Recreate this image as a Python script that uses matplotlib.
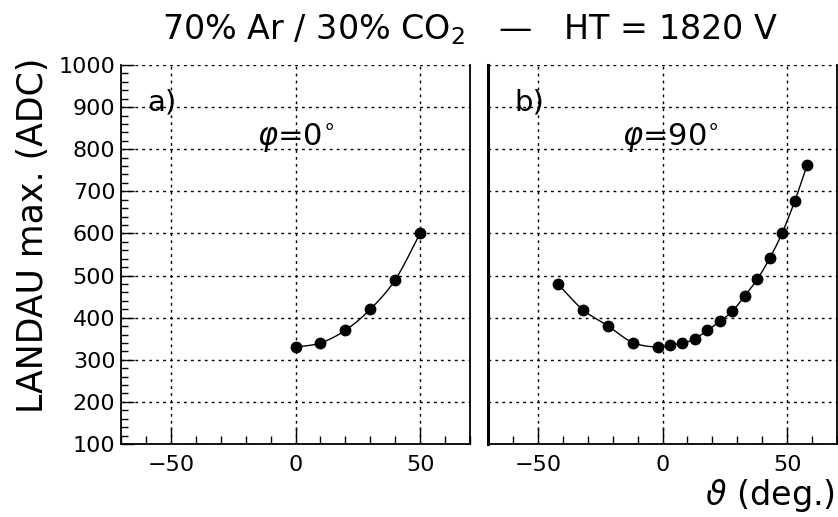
import numpy as np
import matplotlib
matplotlib.use("Agg")
import matplotlib.pyplot as plt
from matplotlib.ticker import MultipleLocator

plt.rcParams['font.family'] = ['DejaVu Sans']
plt.rcParams['mathtext.fontset'] = 'dejavusans'

# Panel a) phi = 0
theta_a = [0, 10, 20, 30, 40, 50]
landau_a = [330, 340, 370, 420, 490, 600]

# Panel b) phi = 90
theta_b = [-42, -32, -22, -12, -2, 3, 8, 13, 18, 23, 28, 33, 38, 43, 48, 53, 58]
landau_b = [480, 419, 381, 341, 330, 335, 339, 350, 370, 391, 415, 452, 491, 541, 601, 676, 762]

title = r"70% Ar / 30% CO$_2$   —   HT = 1820 V"
ylabel = "LANDAU max. (ADC)"
xlabel = r"$\vartheta$ (deg.)"
panel_labels = ["a)", "b)"]
phi_labels = [r"$\varphi$=0$^{\circ}$", r"$\varphi$=90$^{\circ}$"]
x_ticks = [-50, 0, 50]
y_ticks = [100, 200, 300, 400, 500, 600, 700, 800, 900, 1000]


def smooth(x, y, n=20):
    """Catmull-Rom curve through the given points."""
    x = np.asarray(x, float)
    y = np.asarray(y, float)
    px = np.concatenate([[2 * x[0] - x[1]], x, [2 * x[-1] - x[-2]]])
    py = np.concatenate([[2 * y[0] - y[1]], y, [2 * y[-1] - y[-2]]])
    xs, ys = [], []
    t = np.linspace(0, 1, n, endpoint=False)
    for i in range(1, len(px) - 2):
        for p, out in ((px, xs), (py, ys)):
            p0, p1, p2, p3 = p[i - 1], p[i], p[i + 1], p[i + 2]
            out.extend(0.5 * ((2 * p1) + (-p0 + p2) * t
                              + (2 * p0 - 5 * p1 + 4 * p2 - p3) * t ** 2
                              + (-p0 + 3 * p1 - 3 * p2 + p3) * t ** 3))
    xs.append(x[-1])
    ys.append(y[-1])
    return np.array(xs), np.array(ys)


fig = plt.figure(figsize=(8.38, 5.17), dpi=100)
W, H = 838, 517
axa = fig.add_axes([121 / W, (H - 444) / H, 349 / W, 379 / H])
axb = fig.add_axes([488 / W, (H - 444) / H, 349 / W, 379 / H])

phi_x = [0.0, 3.0]
for i, (ax, xs, ys) in enumerate(((axa, theta_a, landau_a), (axb, theta_b, landau_b))):
    sx, sy = smooth(xs, ys)
    ax.plot(sx, sy, color='black', lw=1.0, zorder=3)
    ax.plot(xs, ys, 'o', color='black', ms=7.5, zorder=4)
    ax.set_xlim(-70, 70)
    ax.set_ylim(100, 1000)
    ax.set_xticks(x_ticks)
    ax.xaxis.set_minor_locator(MultipleLocator(10))
    ax.set_yticks(y_ticks)
    ax.yaxis.set_minor_locator(MultipleLocator(20))
    ax.grid(True, which='major', linestyle=(0, (2, 3)), color='black', lw=1.0)
    ax.tick_params(axis='x', which='major', direction='in', length=12, width=1,
                   labelsize=16, pad=8, top=False)
    ax.tick_params(axis='x', which='minor', direction='in', length=6, width=1, top=False)
    ax.spines['top'].set_visible(False)
    for s in ('bottom', 'right'):
        ax.spines[s].set_linewidth(1.3)
    ax.text(0.075, 0.9, panel_labels[i], transform=ax.transAxes, fontsize=21,
            ha='left', va='center')
    ax.text(phi_x[i], 826, phi_labels[i], fontsize=22, ha='center', va='center')

axa.tick_params(axis='y', which='major', direction='in', length=9, width=1,
                labelsize=16, pad=4, right=False)
axa.tick_params(axis='y', which='minor', direction='in', length=5, width=1, right=False)
axa.spines['left'].set_linewidth(1.3)
axb.tick_params(axis='y', which='both', left=False, right=False, labelleft=False)
axb.spines['left'].set_linewidth(2.2)

fig.text(470 / W, 1 - 30 / H, title, fontsize=24, ha='center', va='center')
fig.text(33 / W, 1 - 235 / H, ylabel, fontsize=25, rotation=90, ha='center', va='center')
fig.text(835 / W, 1 - 495 / H, xlabel, fontsize=24, ha='right', va='center')

fig.savefig("out.png", dpi=100)
